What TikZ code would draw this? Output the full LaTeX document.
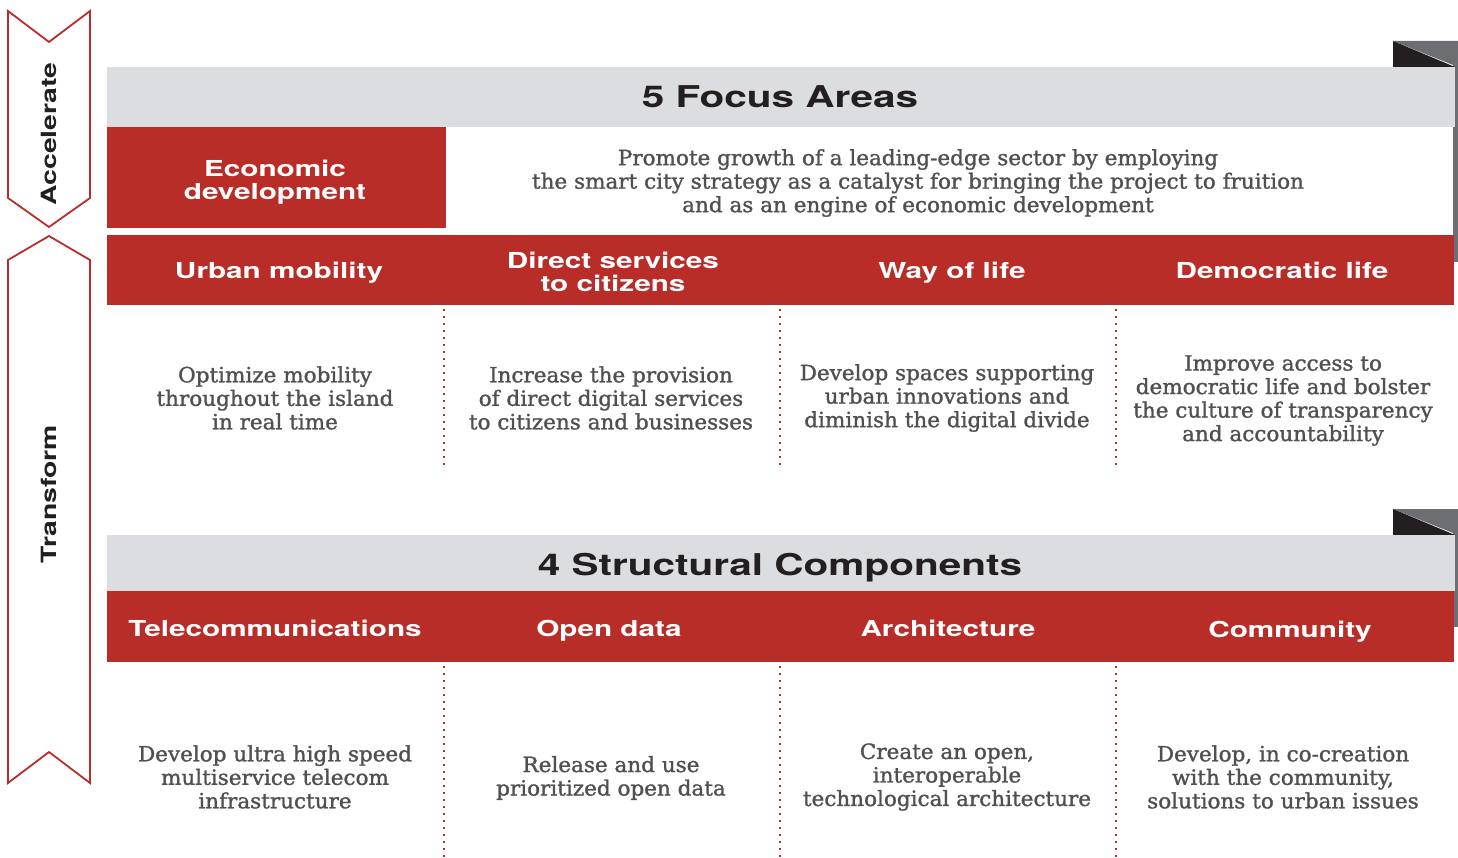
\documentclass[tikz,border=0pt]{standalone}
\usepackage{fontspec}
\setmainfont[FakeStretch=1.025,FakeBold=1.3]{DejaVu Serif}
\newfontfamily\hd[FakeStretch=1.35]{TeX Gyre Heros}
\definecolor{rd}{RGB}{184,45,40}
\definecolor{gr}{RGB}{220,221,224}
\definecolor{dk}{RGB}{35,31,32}
\definecolor{mg}{RGB}{109,110,113}
\definecolor{tx}{RGB}{80,80,82}
\tikzset{
  head/.style={font=\hd\bfseries\fontsize{22}{23}\selectfont, text=white, align=center, inner sep=0pt},
  headb/.style={font=\hd\bfseries\fontsize{22}{23}\selectfont, text=white, inner sep=0pt, anchor=base},
  body/.style={font=\fontsize{21}{23.5}\selectfont, text=tx, align=center, inner sep=0pt},
  title/.style={font=\hd\bfseries\fontsize{30}{32}\selectfont, text=dk, inner sep=0pt, anchor=base},
  side/.style={font=\hd\bfseries\fontsize{21}{23}\selectfont, text=dk, rotate=90, inner sep=0pt},
  chev/.style={draw=rd, line width=1.8pt, line join=miter},
  sepline/.style={draw=rd, line width=2pt, dash pattern=on 2pt off 5pt},
}
\begin{document}
\begin{tikzpicture}[x=1pt,y=-1pt]
\useasboundingbox (0,0) rectangle (1458,858);
% chevrons
\draw[chev] (8,11) -- (49,42) -- (90,11) -- (90,198) -- (49,227) -- (8,198) -- cycle;
\draw[chev] (8,260) -- (49,236) -- (90,260) -- (90,783) -- (49,752) -- (8,783) -- cycle;
\node[side] (acc) at (49,134) {Accelerate};
\node[side] (trf) at (49,494) {Transform};
% top section
\fill[mg] (1453,41) rectangle (1458,262);
\fill[mg] (1393,41) -- (1458,41) -- (1458,67) -- cycle;
\fill[dk] (1393,41) -- (1393,67) -- (1455,67) -- cycle;
\fill[gr] (107,67) rectangle (1455,127);
\node[title] (fa) at (780,107.5) {5 Focus Areas};
\fill[rd] (107,127) rectangle (446,228);
\node[head] (eco) at (275,182.5) {Economic\\development};
\node[body] (eco-t) at (918,183) {Promote growth of a leading-edge sector by employing\\the smart city strategy as a catalyst for bringing the project to fruition\\and as an engine of economic development};
\fill[rd] (107,235) rectangle (1454,305);
\node[headb] (h1) at (279,278.5) {Urban mobility};
\node[head] (h2) at (613,272) {Direct services\\to citizens};
\node[headb] (h3) at (952,279) {Way of life};
\node[headb] (h4) at (1282,279) {Democratic life};
\foreach \x in {444,780,1116} \draw[sepline] (\x,309) -- (\x,470);
\node[body] (t1) at (275,398) {Optimize mobility\\throughout the island\\in real time};
\node[body] (t2) at (611,398) {Increase the provision\\of direct digital services\\to citizens and businesses};
\node[body] (t3) at (947,398) {Develop spaces supporting\\urban innovations and\\diminish the digital divide};
\node[body] (t4) at (1283,400.5) {Improve access to\\democratic life and bolster\\the culture of transparency\\and accountability};
% bottom section
\fill[mg] (1453,509) rectangle (1458,627);
\fill[mg] (1393,509) -- (1458,509) -- (1458,535) -- cycle;
\fill[dk] (1393,509) -- (1393,535) -- (1455,535) -- cycle;
\fill[gr] (107,535) rectangle (1455,591);
\node[title] (sc) at (780,575.5) {4 Structural Components};
\fill[rd] (107,591) rectangle (1454,662);
\node[headb] (g1) at (275,636) {Telecommunications};
\node[headb] (g2) at (609,636) {Open data};
\node[headb] (g3) at (948,636) {Architecture};
\node[headb] (g4) at (1290,637.5) {Community};
\foreach \x in {444,780,1116} \draw[sepline] (\x,666) -- (\x,858);
\node[body] (b1) at (275,777) {Develop ultra high speed\\multiservice telecom\\infrastructure};
\node[body] (b2) at (611,778) {Release and use\\prioritized open data};
\node[body] (b3) at (947,777) {Create an open,\\interoperable\\technological architecture};
\node[body] (b4) at (1283,777) {Develop, in co-creation\\with the community,\\solutions to urban issues};
\end{tikzpicture}
\end{document}
